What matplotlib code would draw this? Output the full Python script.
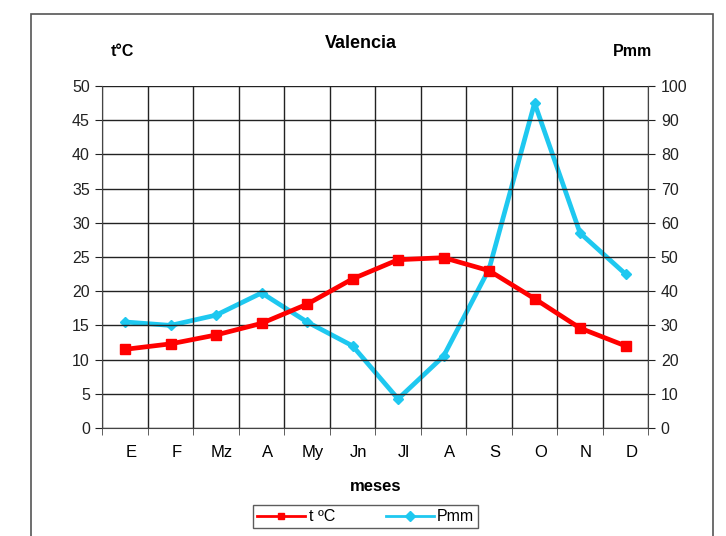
import numpy as np
import matplotlib.pyplot as plt
import matplotlib.transforms as mtransforms
from matplotlib.patches import Rectangle

plt.rcParams["font.family"] = ["Liberation Sans", "DejaVu Sans"]

meses = ["E", "F", "Mz", "A", "My", "Jn", "Jl", "A", "S", "O", "N", "D"]
temp = [11.5, 12.3, 13.6, 15.3, 18.1, 21.8, 24.6, 24.9, 23.0, 18.9, 14.6, 12.0]
prec = [31, 30, 33, 39.5, 31, 24, 8.5, 21, 46.5, 95, 57, 45]

red = "#ff0000"
blue = "#1ec8f0"

fig = plt.figure(figsize=(7.26, 5.36), dpi=100)
ax = fig.add_axes([0.141, 0.2015, 0.752, 0.6381])
ax2 = ax.twinx()

x = np.arange(len(meses))
l1, = ax.plot(x, temp, color=red, lw=3.4, marker="s", ms=6.5, label="t ºC", zorder=5)
l2, = ax2.plot(x, prec, color=blue, lw=3.4, marker="D", ms=5, label="Pmm", zorder=5)

ax.set_xlim(-0.5, len(meses) - 0.5)
ax.set_ylim(0, 50)
ax2.set_ylim(0, 100)
ax.set_yticks(np.arange(0, 51, 5))
ax2.set_yticks(np.arange(0, 101, 10))

# labels at the month centres, grid + ticks at the boundaries
ax.set_xticks(x)
ax.set_xticklabels(meses)
ax.set_xticks(np.arange(-0.5, len(meses), 1), minor=True)
ax.tick_params(axis="x", which="major", length=0, pad=12, labelsize=12)
ax.tick_params(axis="x", which="minor", length=5, color="#444444")
ax.tick_params(axis="y", length=5, labelsize=11.5, colors="#222222", pad=4)
ax2.tick_params(axis="y", length=5, labelsize=11.5, colors="#222222", pad=4)

# excel puts the month labels a little to the right
shift = mtransforms.ScaledTranslation(6 / 100, 0, fig.dpi_scale_trans)
for lab in ax.get_xticklabels():
    lab.set_transform(lab.get_transform() + shift)

ax.grid(True, which="minor", axis="x", color="#222222", lw=1)
ax.grid(True, which="major", axis="y", color="#222222", lw=1)
ax.set_axisbelow(True)
for sp in ["top", "right"]:
    ax.spines[sp].set_visible(False)
    ax2.spines[sp].set_visible(False)
ax2.spines["left"].set_visible(False)
ax2.spines["bottom"].set_visible(False)
ax.spines["left"].set_color("#444444")
ax.spines["bottom"].set_color("#444444")
ax.set_zorder(ax2.get_zorder() + 1)
ax.patch.set_visible(False)
ax2.spines["right"].set_visible(True)
ax2.spines["right"].set_color("#444444")

ax.set_xlabel("meses", fontsize=12, fontweight="bold", labelpad=14)

fig.text(0.497, 0.918, "Valencia", ha="center", va="center", fontsize=13, fontweight="bold")
fig.text(0.168, 0.903, "t°C", ha="center", va="center", fontsize=11.5, fontweight="bold")
fig.text(0.871, 0.903, "Pmm", ha="center", va="center", fontsize=11.5, fontweight="bold")

leg = fig.legend(handles=[l1, l2], loc="center", bbox_to_anchor=(0.504, 0.036),
                 ncol=2, frameon=True, fancybox=False, fontsize=11.5,
                 handlelength=3, columnspacing=3.2, borderpad=0.25,
                 handletextpad=0.2, borderaxespad=0)
leg.get_frame().set_edgecolor("#333333")
leg.get_frame().set_linewidth(1)
for h in leg.legend_handles:
    h.set_linewidth(2)
    h.set_markersize(5)

fig.patches.append(Rectangle((0.043, -0.05), 0.939, 1.024, transform=fig.transFigure,
                             fill=False, edgecolor="#555555", lw=1.2))

fig.savefig("out.png", dpi=100)
